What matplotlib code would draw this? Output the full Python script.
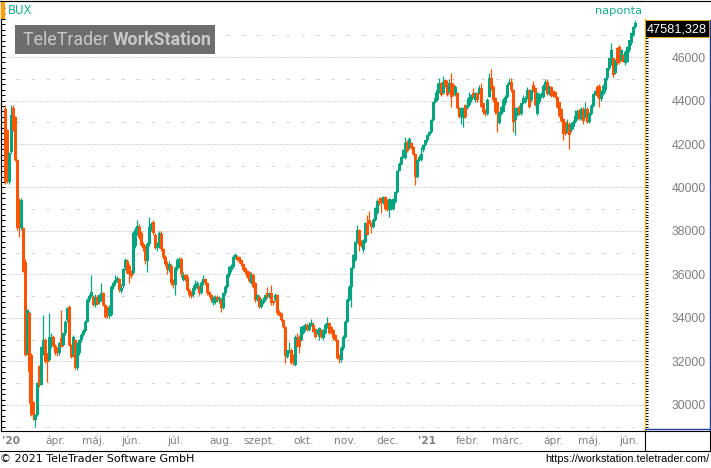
import matplotlib
matplotlib.use('Agg')
import matplotlib.pyplot as plt
from matplotlib.lines import Line2D
from matplotlib.patches import Rectangle
from matplotlib.text import Annotation
import numpy as np

# BUX daily candles, late Feb 2020 - early June 2021
opens = [
    43600, 42650, 40270, 41650, 43640, 43250, 41260, 39420, 38120, 38120,
    36590, 32380, 34210, 32300, 30150, 29310, 29540, 31800, 30920, 32380,
    32990, 32380, 32070, 32700, 33140, 32700, 32600, 32380, 33060, 32760,
    33300, 33900, 34520, 32760, 32300, 32990, 31690, 32400, 32990, 33220,
    33400, 33830, 34830, 35000, 34980, 34600, 34980, 34750, 34830, 35130,
    34600, 34500, 34100, 34150, 35440, 35600, 35750, 35800, 35250, 35450,
    36300, 36600, 36400, 36100, 36050, 37300, 37900, 38200, 37900, 37400,
    37300, 36600, 37400, 38200, 38400, 37800, 37200, 37300, 37850, 37150,
    36800, 36500, 36200, 36400, 35700, 35500, 36300, 36400, 36700, 35750,
    35980, 35900, 35300, 35200, 35050, 35400, 35450, 35450, 35130, 35600,
    35800, 35600, 35200, 35050, 34700, 34750, 34980, 34830, 34830, 34440,
    35130, 35440, 35980, 36200, 36360, 36820, 36820, 36800, 36650, 36500,
    36300, 36150, 36100, 35600, 35980, 35600, 34830, 34980, 34520, 34700,
    34830, 35130, 34980, 35130, 34800, 34830, 35050, 34290, 34210, 33910,
    33600, 32220, 32450, 32530, 32300, 31840, 32990, 33140, 32990, 33300,
    33450, 33680, 33450, 33680, 33680, 33500, 33300, 33140, 33450, 33060,
    33300, 33600, 33750, 33600, 33450, 33200, 32990, 32300, 32070, 32600,
    33140, 33830, 34830, 35420, 36280, 36650, 37500, 38040, 37550, 37120,
    37500, 38360, 38500, 38360, 38200, 38500, 38850, 39390, 39500, 39300,
    39550, 39400, 38950, 39000, 39000, 39330, 39790, 40780, 41100, 41400,
    41340, 42100, 41800, 42030, 41870, 41560, 40500, 41260, 41260, 41720,
    41950, 42180, 42400, 42560, 43100, 43950, 44020, 44400, 44790, 44330,
    44930, 44790, 44400, 44790, 44720, 44250, 44330, 43640, 43250, 43180,
    43790, 43640, 43790, 44020, 44330, 44020, 44330, 44330, 44560, 43870,
    43560, 43400, 44170, 45020, 44640, 44100, 43950, 42950, 43400, 43480,
    43870, 44170, 44720, 44870, 44480, 43100, 43330, 43720, 43400, 43870,
    43950, 44100, 44480, 44020, 44710, 44560, 43400, 43920, 44150, 44150,
    44530, 44830, 44300, 44600, 44450, 44380, 44150, 43920, 43610, 43160,
    43000, 42550, 42930, 42630, 42780, 43010, 43160, 43540, 43160, 43620,
    43240, 43620, 43010, 43400, 43770, 44300, 44620, 44680, 44070, 44300,
    44480, 45020, 45480, 45710, 45940, 45250, 46400, 46475, 45860, 46090,
    45710, 45790, 46320, 46630, 47010, 47400,
]
highs = [
    43800, 42700, 41650, 43790, 43790, 43300, 41300, 39500, 39500, 38200,
    36700, 34400, 34300, 32400, 30200, 29600, 31050, 31850, 32700, 34140,
    33100, 32400, 34210, 33300, 33200, 32800, 32650, 32900, 34370, 33350,
    33900, 34500, 34600, 32800, 33200, 33050, 32900, 33050, 33300, 33500,
    33900, 34900, 35100, 35980, 35050, 35100, 35050, 35100, 35600, 35200,
    34650, 34550, 34600, 35500, 35700, 35980, 35950, 35850, 35550, 36300,
    36750, 36700, 36500, 36200, 38000, 38200, 38500, 38300, 38000, 37500,
    37350, 37500, 38660, 38400, 38500, 37900, 37500, 38000, 38000, 37200,
    36900, 36600, 36600, 36500, 35800, 36400, 36750, 36800, 36800, 36100,
    36000, 36000, 35400, 35250, 35500, 35750, 35700, 35500, 35700, 35980,
    35850, 35650, 35250, 35100, 35000, 35050, 35050, 35000, 34900, 35200,
    35500, 36050, 36400, 36500, 36900, 37000, 36900, 36850, 36700, 36550,
    36350, 36200, 36150, 36100, 36050, 35650, 35100, 35050, 34900, 34950,
    35100, 35440, 35200, 35500, 34850, 35150, 35100, 34350, 34250, 33950,
    33650, 32550, 32910, 32600, 32350, 33200, 33300, 33200, 33650, 33700,
    33750, 33750, 33830, 33950, 33830, 33550, 33500, 33600, 33500, 33500,
    33750, 34060, 33800, 33650, 33500, 33250, 33050, 32350, 32700, 33200,
    33900, 34900, 35500, 36350, 36950, 37550, 38280, 38100, 37600, 37650,
    38400, 38740, 38900, 38400, 38600, 39100, 39450, 39550, 39550, 39600,
    39600, 39450, 39500, 39450, 39500, 39850, 40800, 41150, 41450, 41750,
    42340, 42200, 42300, 42100, 41900, 41600, 41300, 41500, 41870, 42000,
    42200, 42450, 42600, 43150, 44000, 44400, 44800, 45020, 44850, 45130,
    45000, 44930, 45000, 45250, 44800, 44700, 44400, 43700, 43700, 43700,
    43850, 44100, 44400, 44300, 44560, 44400, 44400, 44710, 44790, 43900,
    43600, 44100, 45250, 45470, 44700, 44150, 44000, 43500, 43750, 44100,
    44250, 44800, 45020, 45020, 44550, 43700, 43700, 43800, 43900, 44250,
    44200, 44640, 44550, 44550, 44900, 44600, 44400, 44350, 44400, 44750,
    44980, 44980, 44700, 44650, 44500, 44450, 44200, 43950, 43650, 43200,
    43050, 43150, 43000, 43000, 43100, 43550, 43600, 43600, 43700, 43700,
    43920, 43700, 43450, 43850, 44350, 44500, 44700, 44750, 44500, 44750,
    45050, 45500, 45950, 46630, 45950, 45900, 46450, 46550, 46350, 46150,
    46300, 46500, 46800, 47100, 47420, 47700,
]
lows = [
    40150, 40200, 40150, 41600, 42600, 41200, 38050, 37740, 38050, 36100,
    32250, 32300, 30080, 29500, 29300, 29000, 29500, 30850, 30900, 32300,
    31950, 31070, 32000, 32600, 32650, 32300, 32250, 32300, 32650, 32700,
    33200, 33800, 32700, 32150, 32200, 31650, 31600, 32300, 32900, 33150,
    33350, 33800, 34750, 34950, 34550, 34500, 34600, 34650, 34800, 34550,
    34000, 34000, 34000, 34100, 35350, 35500, 35650, 35200, 35150, 35400,
    36200, 36000, 35600, 35850, 36000, 37200, 37800, 37650, 37300, 37100,
    36500, 36100, 37300, 38000, 37800, 37150, 37100, 37200, 37100, 36700,
    36400, 36000, 36100, 35500, 35400, 35050, 36200, 36300, 35900, 35700,
    35700, 35250, 34980, 34900, 34950, 35300, 35350, 35050, 35100, 35500,
    35500, 35050, 34950, 34750, 34600, 34650, 34750, 34700, 34290, 34400,
    35050, 35400, 35900, 36100, 36300, 36700, 36600, 36550, 36400, 36150,
    36000, 35850, 35650, 35550, 35400, 34750, 34800, 34450, 34450, 34650,
    34800, 34900, 34900, 34600, 34600, 34800, 34150, 34100, 33850, 33550,
    31920, 32150, 32400, 31900, 31850, 31800, 32650, 32370, 32950, 33250,
    33400, 33400, 33400, 33650, 33350, 33100, 33250, 32990, 33100, 33000,
    33250, 33550, 33250, 33250, 33000, 32950, 32100, 31920, 31990, 32550,
    33100, 33800, 34800, 34520, 36250, 36600, 37450, 37100, 37250, 37050,
    37450, 37800, 38300, 37900, 38150, 38450, 38800, 39200, 38850, 39250,
    38950, 38900, 38660, 38950, 38950, 39300, 39750, 40750, 41050, 41350,
    41300, 41650, 41750, 41750, 41500, 40110, 40450, 41200, 41200, 41650,
    41900, 42100, 42350, 42500, 43050, 43900, 44000, 44350, 44200, 44300,
    44600, 44200, 44350, 43720, 44200, 44200, 43600, 43200, 42900, 42800,
    43200, 43600, 43750, 43950, 44100, 43950, 43950, 44300, 43700, 43400,
    43300, 43350, 44150, 44500, 43950, 43400, 42560, 42900, 43350, 43450,
    43800, 44100, 44700, 44400, 42560, 42410, 43300, 43350, 43350, 43850,
    43900, 44050, 43650, 43950, 44400, 43750, 43350, 43850, 44100, 44100,
    44500, 44250, 44250, 44150, 44150, 44100, 43650, 43250, 43000, 42170,
    42400, 42500, 41790, 42550, 42700, 42950, 43100, 43100, 43100, 42930,
    43200, 42950, 42950, 43350, 43700, 44250, 44150, 43690, 44000, 44250,
    44400, 44950, 45400, 45650, 45100, 45200, 45650, 45700, 45800, 45750,
    45650, 45750, 46250, 46550, 46950, 47350,
]
closes = [
    40270, 40270, 41570, 43330, 42650, 41260, 38120, 38120, 39430, 36130,
    32300, 34370, 31530, 29540, 29540, 29540, 31000, 30920, 32680, 32990,
    31990, 31990, 33140, 33140, 32700, 32380, 32380, 32830, 32680, 33300,
    33830, 34440, 32760, 32220, 33140, 31690, 32830, 32990, 33220, 33400,
    33830, 34830, 35000, 35210, 34600, 34980, 34650, 35050, 35130, 34600,
    34060, 34100, 34450, 35440, 35600, 35750, 35850, 35300, 35400, 36250,
    36650, 36050, 36000, 35950, 37900, 38050, 38250, 37700, 37350, 37200,
    36600, 37400, 38200, 38300, 37900, 37200, 37400, 37900, 37150, 36800,
    36500, 36200, 36500, 35600, 35500, 36300, 36650, 36700, 36000, 35980,
    35800, 35300, 35050, 35000, 35400, 35550, 35600, 35130, 35600, 35800,
    35600, 35130, 35050, 34830, 34900, 34980, 34830, 34900, 34440, 35130,
    35440, 35980, 36360, 36400, 36820, 36900, 36670, 36600, 36500, 36200,
    36100, 35900, 35700, 35980, 35440, 34830, 35060, 34520, 34830, 34850,
    35050, 34980, 35100, 34670, 34700, 35050, 34210, 34140, 33910, 33600,
    32250, 32530, 32530, 31920, 31920, 33140, 32680, 32680, 33600, 33650,
    33680, 33450, 33680, 33750, 33370, 33140, 33450, 33520, 33140, 33450,
    33680, 33750, 33300, 33300, 33060, 32990, 32150, 32100, 32600, 33140,
    33830, 34830, 35420, 36280, 36900, 37500, 38040, 37350, 37300, 37580,
    38360, 37830, 38360, 38200, 38500, 39080, 39390, 39300, 39300, 39550,
    39000, 38950, 39450, 39400, 39450, 39790, 40780, 41100, 41400, 41710,
    42030, 41700, 42250, 41800, 41560, 40500, 41260, 41420, 41560, 41950,
    42180, 42400, 42560, 43100, 43950, 44100, 44480, 44800, 44250, 44850,
    44700, 44250, 44790, 44170, 44250, 44640, 43640, 43250, 43640, 43640,
    43250, 43790, 44180, 44250, 44170, 44330, 44020, 44560, 43720, 43480,
    43400, 44020, 45020, 44560, 44020, 43480, 43400, 43480, 43720, 44020,
    44170, 44720, 44870, 44480, 43030, 43640, 43640, 43410, 43870, 44100,
    44100, 44480, 43720, 44480, 44480, 43800, 44330, 44300, 44300, 44680,
    44830, 44300, 44600, 44220, 44220, 44150, 43700, 43310, 43080, 42480,
    42480, 42930, 42400, 42930, 43010, 43310, 43540, 43160, 43620, 43080,
    43620, 43010, 43400, 43770, 44300, 44450, 44220, 44070, 44450, 44680,
    45020, 45480, 45940, 46320, 45170, 45860, 45710, 45790, 46320, 45790,
    46245, 46475, 46780, 47090, 47400, 47581,
]

month_labels = ["'20", 'ápr.', 'máj.', 'jún.', 'júl.', 'aug.', 'szept.', 'okt.',
                'nov.', 'dec.', "'21", 'febr.', 'márc.', 'ápr.', 'máj.', 'jún.']
month_pos = [3, 25, 44, 63, 85, 108, 127, 149, 170, 191, 211, 231, 251, 274, 292, 312]
price_ticks = [30000, 32000, 34000, 36000, 38000, 40000, 42000, 44000, 46000]
last_price = '47581,328'
symbol = 'BUX'
period = 'naponta'

GREEN = '#03a581'
ORANGE = '#ff5500'
TEAL = '#17a98f'
W, H = 711, 468

plt.rcParams['lines.scale_dashes'] = False


def fx(px):
    return px / W


def fy(py):
    return 1 - py / H


fig = plt.figure(figsize=(W / 100, H / 100), dpi=100)
ax = fig.add_axes([fx(0.5), fy(430.5), 644 / W, 430 / H])
ax.set_xlim(-2.5, 319.5)
ax.set_ylim(28827, 48598)

# horizontal grid: dotted on even thousands, sparse dashes on odd ones
for level in range(29000, 48000, 1000):
    if level % 2000 == 0:
        ax.axhline(level, color='#b4b4b4', lw=0.72, ls=(0, (0.72, 1.44)), zorder=0)
    else:
        ax.axhline(level, color='#d2d2d2', lw=0.72, ls=(0, (2.4, 8.4)), zorder=0)

o = np.array(opens)
h = np.array(highs)
l = np.array(lows)
c = np.array(closes)
x = np.arange(len(c))
cols = np.where(c >= o, GREEN, ORANGE)

ax.vlines(x, l, h, colors=cols, linewidth=0.9, zorder=2)
ax.bar(x, np.maximum(np.abs(c - o), 45), bottom=np.minimum(o, c), width=1.45,
       color=cols, linewidth=0, zorder=3)

# spines
for side in ['left', 'top', 'bottom']:
    ax.spines[side].set_color('black')
    ax.spines[side].set_linewidth(0.8)
ax.spines['right'].set_color('#f2b705')
ax.spines['right'].set_linewidth(0.9)
ax.spines['right'].set_bounds(28827, 47748)

# right price axis
ax.yaxis.tick_right()
ax.set_yticks(price_ticks)
ax.set_yticklabels([str(t) for t in price_ticks])
ax.set_yticks(np.arange(28875, 47700, 125), minor=True)
ax.tick_params(axis='y', which='both', direction='out', length=2.2, width=0.72,
               color='black', pad=42, labelsize=8.8, labelcolor='#7f7f7f')
for lab in ax.get_yticklabels():
    lab.set_horizontalalignment('right')
    lab.set_family('Liberation Sans')

# small ticks along the left edge
sec = ax.secondary_yaxis('left')
sec.set_yticks(np.arange(29000, 48500, 250))
sec.tick_params(direction='in', length=3, width=0.72, labelleft=False)
sec.spines['left'].set_linewidth(0.8)

# month axis
ax.set_xticks(month_pos)
ax.set_xticklabels(month_labels)
ax.tick_params(axis='x', length=0, pad=3.8, labelsize=7.7, labelcolor='#808080')
for lab in ax.get_xticklabels():
    if lab.get_text().startswith("'"):
        lab.set_fontweight('bold')


# frame lines around the chart
def fig_line(x0, y0, x1, y1, color='black', lw=0.8):
    fig.add_artist(Line2D([fx(x0), fx(x1)], [fy(y0), fy(y1)], color=color, lw=lw))


fig_line(0, 0.5, 711, 0.5)
fig_line(0, 450.5, 709.5, 450.5)
fig_line(644.5, 430.5, 644.5, 450.5)
fig_line(709.5, 430.5, 709.5, 450.5)
fig_line(644.5, 430.5, 709.5, 430.5)
fig_line(709.5, 20, 709.5, 429.5, color='#1f3f9f', lw=1.0)
fig_line(645, 429.3, 709.5, 429.3, color='#1f3f9f', lw=1.0)

# last price box
fig.add_artist(Rectangle((fx(645), fy(37)), 64 / W, 17 / H, facecolor='black',
                         edgecolor='#f2b705', linewidth=0.6))
fig.text(fx(647), fy(29), last_price, color='white', fontsize=9.2,
         family='Liberation Sans', ha='left', va='center')

# symbol and period
fig.add_artist(Rectangle((fx(1), fy(19)), 4 / W, 18 / H, facecolor='#f7a000', linewidth=0))
fig.text(fx(8), fy(10.5), symbol, color=TEAL, fontsize=8.4, ha='left', va='center')
fig.text(fx(642), fy(11), period, color=TEAL, fontsize=8.2, ha='right', va='center')

# watermark
fig.add_artist(Rectangle((fx(15), fy(54)), 200 / W, 29 / H, facecolor='#6d6d6d',
                         linewidth=0, zorder=1))
t1 = fig.text(fx(23), fy(40), 'TeleTrader ', color='#c8c8c8', fontsize=12.8,
              family='Roboto', ha='left', va='center', zorder=3)
t2 = Annotation('WorkStation', xy=(1, 0), xycoords=t1, ha='left', va='bottom',
                color='#c8c8c8', fontsize=12.8, family='Roboto', fontweight='bold')
t2.set_zorder(3)
fig.add_artist(t2)

# footer
fig.text(fx(0), fy(458.5), '© 2021 TeleTrader Software GmbH', color='black',
         fontsize=8, ha='left', va='center')
fig.text(fx(709), fy(458.5), 'https://workstation.teletrader.com/', color='black',
         fontsize=7.8, family='Liberation Sans', ha='right', va='center')

fig.savefig('out.png', dpi=100)
